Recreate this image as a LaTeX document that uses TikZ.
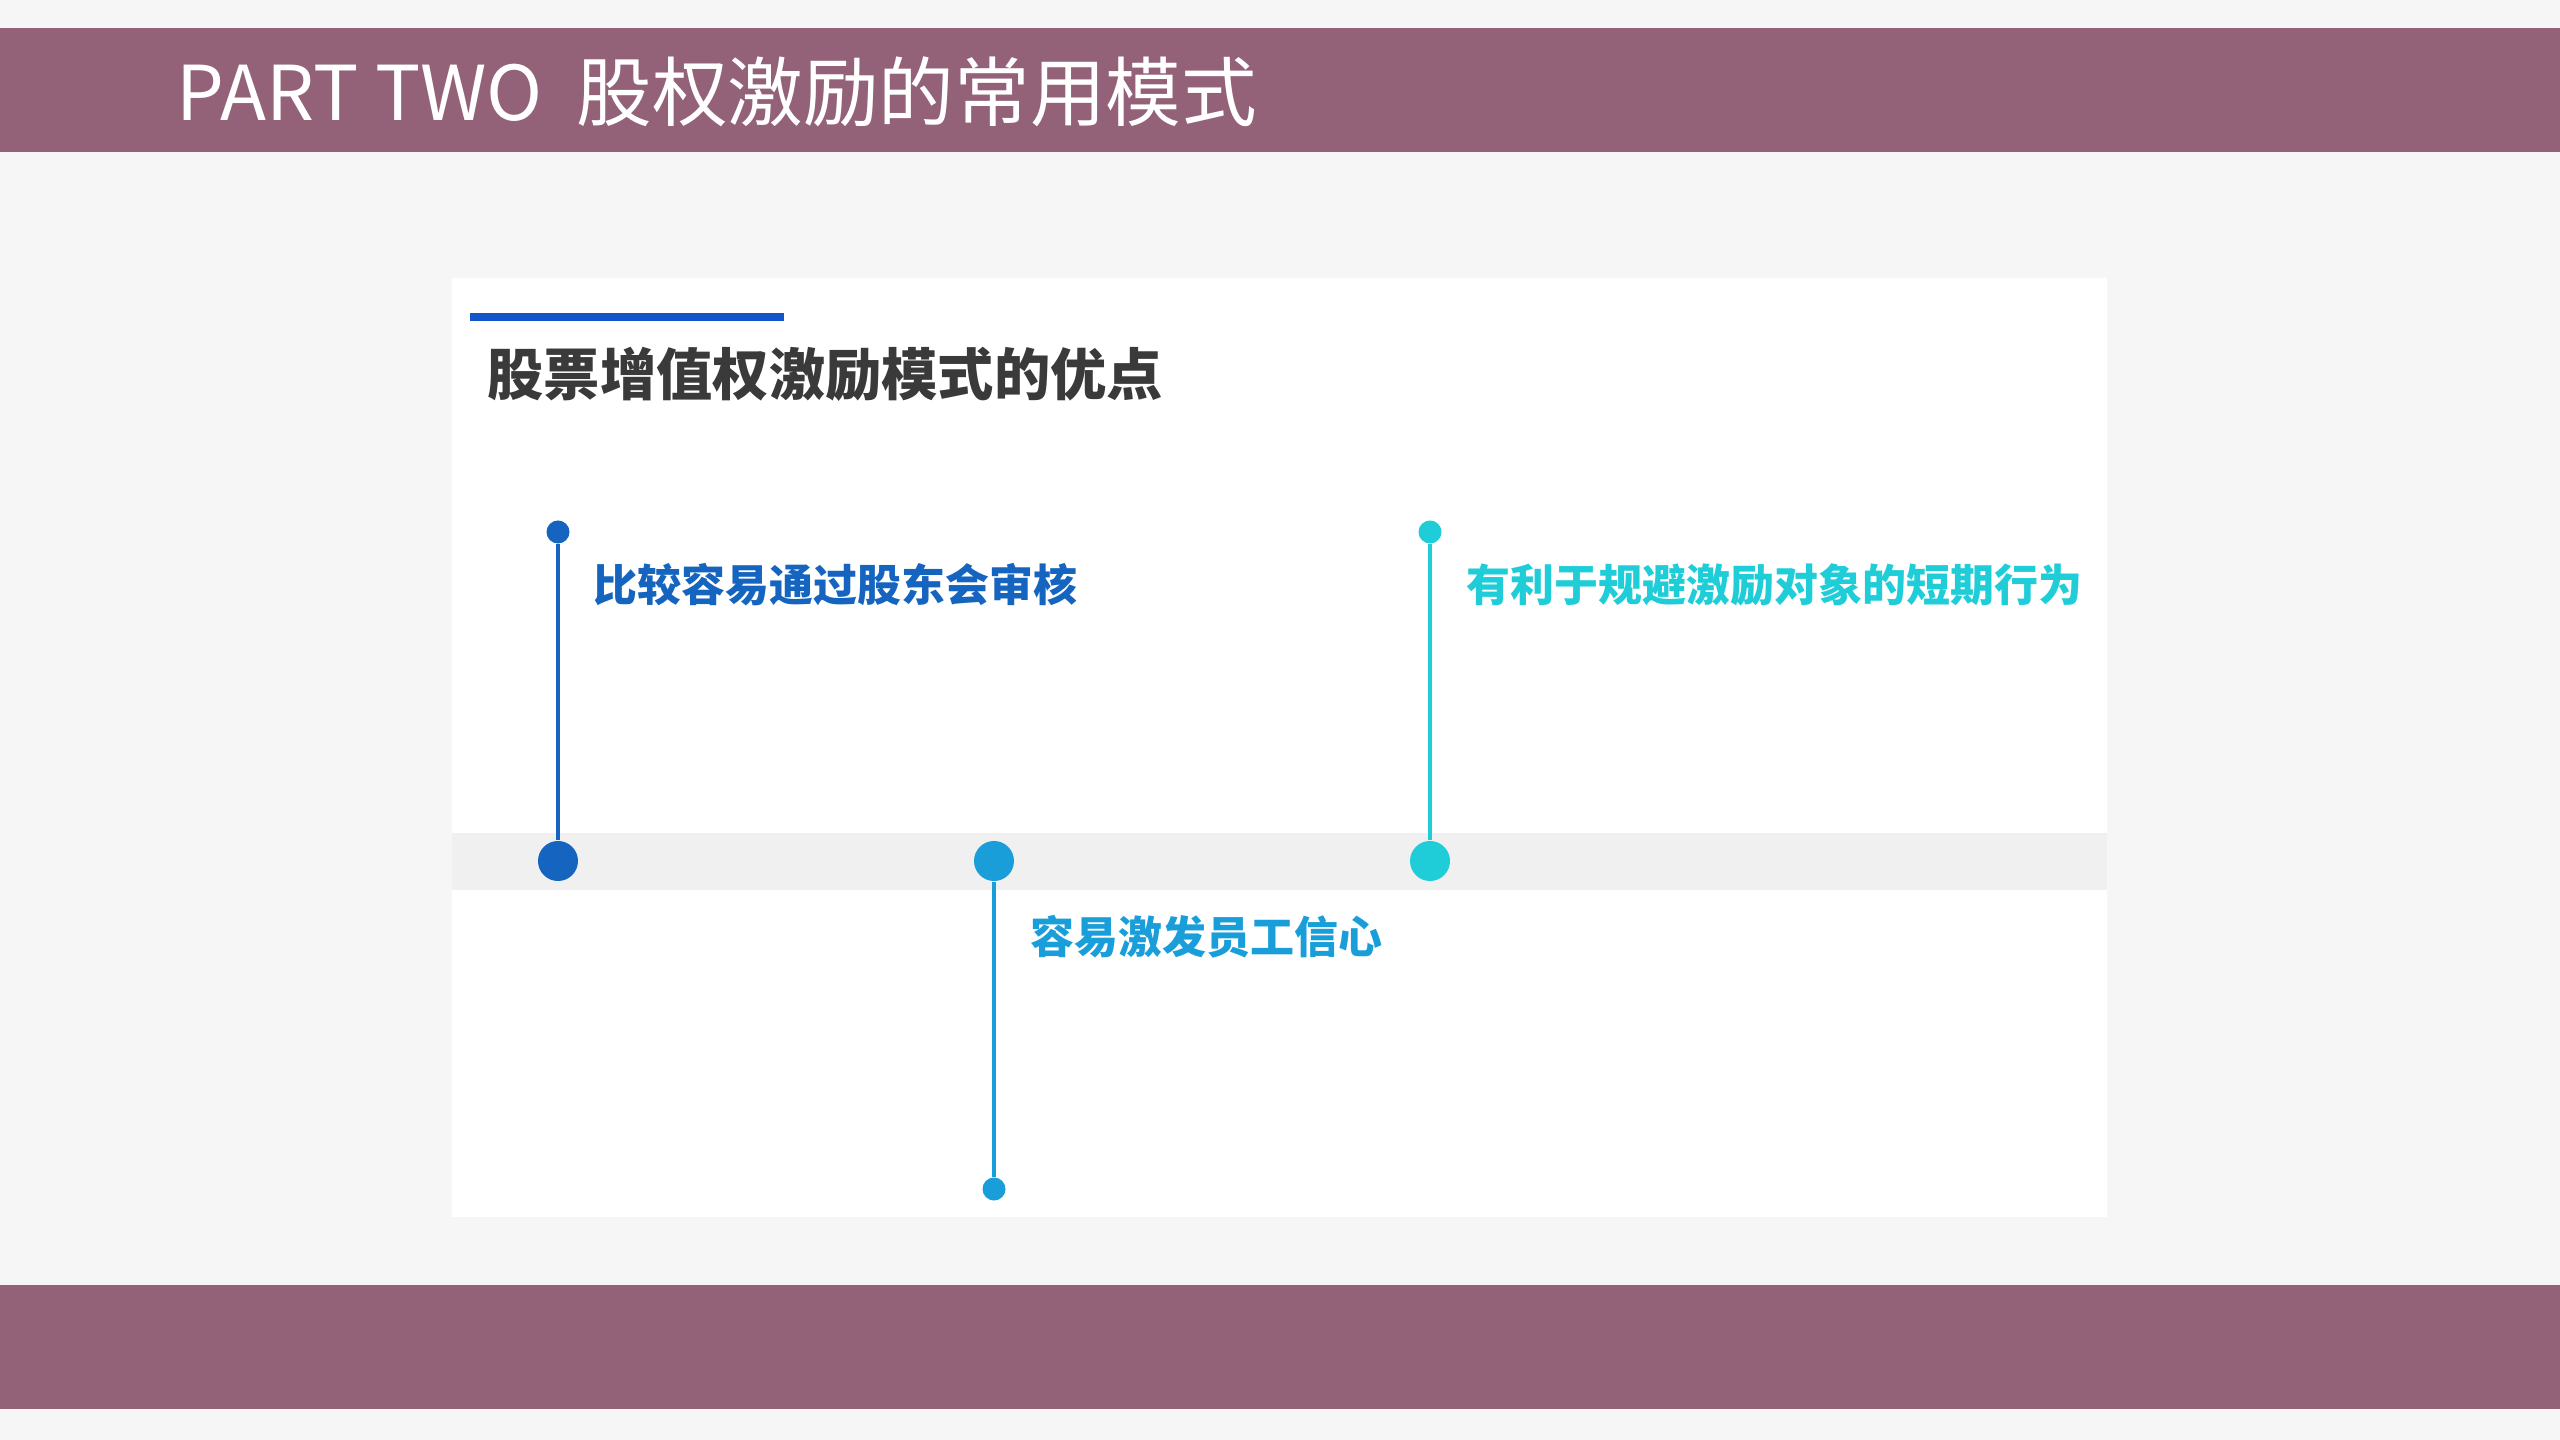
\documentclass[tikz,border=0pt]{standalone}
\usepackage{fontspec}
\newfontfamily\cjk{Noto Sans CJK SC}
\definecolor{bar}{HTML}{936279}
\definecolor{bg}{HTML}{F6F6F6}
\definecolor{cA}{HTML}{1565C0}
\definecolor{cB}{HTML}{1A9ED9}
\definecolor{cC}{HTML}{1FCDD8}
\definecolor{head}{HTML}{3A3A3A}
\tikzset{big/.style={circle,fill=#1,minimum size=0.4cm,inner sep=0},
small/.style={circle,fill=#1,minimum size=0.23cm,inner sep=0},
lbl/.style={anchor=west,inner sep=0,font=\cjk\bfseries\fontsize{12.5pt}{14pt}\selectfont,text=#1}}
\begin{document}
\begin{tikzpicture}[x=0.01cm,y=-0.01cm]
\fill[bg] (0,0) rectangle (2560,1440);
\useasboundingbox (0,0) rectangle (2560,1440);
\fill[bar] (0,28) rectangle (2560,152);
\fill[bar] (0,1285) rectangle (2560,1409);
\node[anchor=west,inner sep=0,text=white,font=\cjk\fontsize{21.5pt}{24pt}\selectfont] (title) at (176,92) {PART TWO\ \ 股权激励的常用模式};
\fill[white] (452,278) rectangle (2107,1217);
\fill[cA!85!blue] (470,313) rectangle (784,321);
\node[anchor=west,inner sep=0,text=head,font=\cjk\bfseries\fontsize{16pt}{18pt}\selectfont] (h) at (487,374) {股票增值权激励模式的优点};
\fill[black!6] (452,833) rectangle (2107,890);
\node[big=cA] (b1) at (558,861) {};
\node[big=cB] (b2) at (994,861) {};
\node[big=cC] (b3) at (1430,861) {};
\node[small=cA] (s1) at (558,532) {};
\node[small=cB] (s2) at (994,1189) {};
\node[small=cC] (s3) at (1430,532) {};
\draw[cA,line width=1.3pt] (s1) -- (b1);
\draw[cB,line width=1.3pt] (b2) -- (s2);
\draw[cC,line width=1.3pt] (s3) -- (b3);
\node[lbl=cA] (t1) at (593,585) {比较容易通过股东会审核};
\node[lbl=cB] (t2) at (1030,937) {容易激发员工信心};
\node[lbl=cC] (t3) at (1466,585) {有利于规避激励对象的短期行为};
\end{tikzpicture}
\end{document}
